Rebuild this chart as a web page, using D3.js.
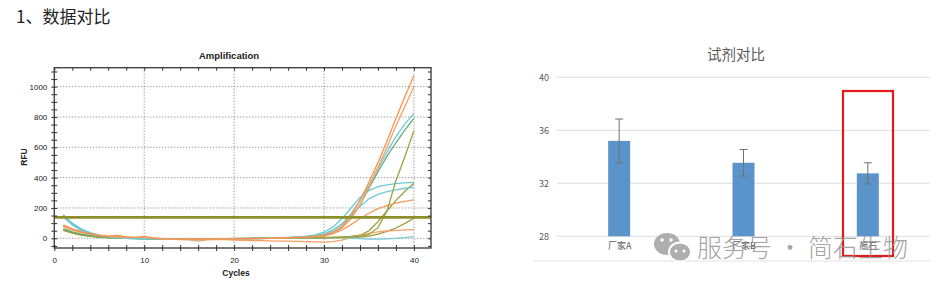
<!DOCTYPE html>
<html>
<head>
<meta charset="utf-8">
<script src="https://cdn.jsdelivr.net/npm/d3@7"></script>
<style>
  body { margin: 0; background: #fff; }
</style>
</head>
<body>
<div id="chart"></div>
<script>
// ---- amplification data (RFU per cycle, cycles 1..40) ----
const cycles = [1,2,3,4,5,6,7,8,9,10,11,12,13,14,15,16,17,18,19,20,21,22,23,24,25,26,27,28,29,30,31,32,33,34,35,36,37,38,39,40];

const orange1 = [88,62,44,30,20,14,18,10,6,12,2,-2,-4,-6,-5,-4,-6,-5,-3,-4,-2,-3,-1,0,2,4,6,9,14,20,40,80,150,250,370,500,640,790,935,1073];
const orange2 = [80,58,40,27,18,12,9,6,4,8,0,-3,-5,-6,-4,-7,-5,-4,-6,-3,-4,-2,-2,1,2,3,5,8,11,15,35,70,130,220,340,470,600,740,870,1000];
const orange3 = [84,60,42,28,18,12,20,8,5,6,1,-2,-3,-5,-6,-5,-4,-6,-5,-4,-3,-2,-2,0,1,3,5,7,10,15,30,55,90,130,165,195,215,232,244,253];
const orange4 = [76,54,38,26,17,10,8,5,3,4,-2,-5,-6,-8,-10,-18,-10,-8,-9,-12,-14,-15,-16,-17,-18,-19,-20,-22,-24,-25,-22,-12,5,20,32,42,48,52,55,57];
const cyan1 = [150,95,58,34,19,9,3,0,-2,-3,-4,-5,-6,-5,-7,-8,-6,-5,-4,-4,-3,-2,-1,0,2,4,7,11,17,25,50,95,160,250,350,460,570,670,755,824];
const cyan2 = [155,100,62,37,21,11,5,1,-1,-3,-4,-5,-5,-6,-6,-7,-6,-5,-5,-3,-2,-1,0,2,4,6,9,14,22,40,75,130,200,270,315,340,352,360,365,369];
const cyan3 = [145,92,56,33,18,9,3,0,-2,-3,-5,-6,-6,-7,-6,-8,-7,-6,-5,-4,-3,-2,-1,1,3,5,7,10,15,30,55,95,150,210,260,290,308,320,330,336];
const cyan4 = [140,88,52,30,16,8,2,-1,-3,-4,-5,-6,-7,-6,-5,-6,-5,-4,-4,-3,-3,-2,-2,-1,0,0,1,2,3,4,5,4,2,-2,-5,-6,-4,-1,4,11];
const green1 = [62,42,28,18,11,6,3,1,0,-1,-2,-3,-3,-4,-4,-5,-4,-3,-3,-2,-2,-1,0,1,2,3,5,7,10,15,35,70,130,220,330,440,540,630,715,791];
const olive1 = [58,38,24,15,9,5,2,0,-1,-2,-3,-3,-4,-4,-5,-4,-4,-3,-3,-2,-2,-1,-1,0,0,1,2,2,3,4,5,7,10,15,25,70,180,380,540,710];
const olive2 = [55,36,23,14,8,4,2,0,-1,-2,-2,-3,-3,-4,-4,-3,-3,-3,-2,-2,-1,-1,0,0,1,1,2,3,4,5,7,9,13,20,50,110,180,250,310,363];
const olive3 = [52,34,21,13,7,4,1,0,-1,-1,-2,-2,-3,-3,-3,-2,-2,-2,-2,-1,-1,0,0,0,1,1,1,2,2,3,3,4,5,8,15,28,45,68,98,132];
const threshold = 138;

const rfuTicks = [0, 200, 400, 600, 800, 1000];
const cycleTicks = [0, 10, 20, 30, 40];

// ---- reagent comparison data ----
const reagents = ["厂家A", "厂家B", "简石"];
const ctMeans = [35.2, 33.55, 32.75];
const ctErrors = [1.65, 1.0, 0.8];
const ctTicks = [28, 32, 36, 40];

const curves = [
  {v: olive3, c: "#9c9e3e"},
  {v: olive2, c: "#9a9c3a"},
  {v: orange4, c: "#f7a066"},
  {v: cyan4, c: "#72ccd8"},
  {v: orange3, c: "#f59a5c"},
  {v: cyan3, c: "#72ccd8"},
  {v: cyan2, c: "#6ecad6"},
  {v: olive1, c: "#9aa23c"},
  {v: green1, c: "#62ac7a"},
  {v: cyan1, c: "#6ecad6"},
  {v: orange2, c: "#f8a26a"},
  {v: orange1, c: "#f59452"}
];

const svg = d3.select("#chart").append("svg")
    .attr("width", 940)
    .attr("height", 288);

svg.append("text")
    .attr("x", 16)
    .attr("y", 23)
    .style("font-family", "'Noto Sans CJK SC'")
    .style("font-size", "17px")
    .style("fill", "#222")
    .text("1、数据对比");

// ================= left: amplification plot =================
const narrow = "'Liberation Sans Narrow', 'Arial Narrow', 'Liberation Sans', sans-serif";
const ampX = d3.scaleLinear().domain([0, 41.9]).range([54.3, 431]);
const ampY = d3.scaleLinear().domain([-64, 1125]).range([248, 67.7]);

const amp = svg.append("g");

amp.append("defs").append("clipPath").attr("id", "ampclip")
    .append("rect")
    .attr("x", ampX(0)).attr("y", ampY(1125))
    .attr("width", ampX(41.9) - ampX(0))
    .attr("height", ampY(-64) - ampY(1125));

// dotted grid
amp.selectAll(".hgrid").data(rfuTicks).enter().append("line")
    .attr("x1", ampX(0)).attr("x2", ampX(41.9))
    .attr("y1", d => ampY(d)).attr("y2", d => ampY(d))
    .style("stroke", "#7a7a7a")
    .style("stroke-width", 1)
    .style("stroke-dasharray", "1,2");
amp.selectAll(".vgrid").data(cycleTicks.slice(1)).enter().append("line")
    .attr("x1", d => ampX(d)).attr("x2", d => ampX(d))
    .attr("y1", ampY(1125)).attr("y2", ampY(-64))
    .style("stroke", "#7a7a7a")
    .style("stroke-width", 1)
    .style("stroke-dasharray", "1,2");

const line = d3.line()
    .x((d, i) => ampX(cycles[i]))
    .y(d => ampY(d));

amp.append("g").attr("clip-path", "url(#ampclip)")
    .selectAll("path").data(curves).enter().append("path")
    .attr("d", d => line(d.v))
    .style("fill", "none")
    .style("stroke", d => d.c)
    .style("stroke-width", 1.3);

// threshold
amp.append("line")
    .attr("x1", ampX(0)).attr("x2", ampX(41.9))
    .attr("y1", ampY(threshold)).attr("y2", ampY(threshold))
    .style("stroke", "#8e8f2a")
    .style("stroke-width", 2.6);

// frame
amp.append("rect")
    .attr("x", ampX(0)).attr("y", ampY(1125))
    .attr("width", ampX(41.9) - ampX(0))
    .attr("height", ampY(-64) - ampY(1125))
    .style("fill", "none")
    .style("stroke", "#444")
    .style("stroke-width", 1.4);

// ticks (major + minor)
function tickAxis(axis, tx, ty) {
  const g = amp.append("g")
      .attr("transform", "translate(" + tx + "," + ty + ")")
      .call(axis);
  g.select(".domain").remove();
  g.selectAll("line").style("stroke", "#333");
  g.selectAll("text")
      .style("font-family", narrow)
      .style("font-size", "8px")
      .style("fill", "#222");
  return g;
}
const yMinor = d3.range(-50, 1101, 50);
const xMinor = d3.range(0, 42, 2);
tickAxis(d3.axisLeft(ampY).tickValues(yMinor).tickSize(3).tickFormat(""), ampX(0), 0);
tickAxis(d3.axisRight(ampY).tickValues(yMinor).tickSize(3).tickFormat(""), ampX(0), 0);
tickAxis(d3.axisLeft(ampY).tickValues(yMinor).tickSize(3).tickFormat(""), ampX(41.9), 0);
tickAxis(d3.axisLeft(ampY).tickValues(rfuTicks).tickSize(0).tickPadding(7).tickFormat(d3.format("d")), ampX(0), 0);
tickAxis(d3.axisBottom(ampX).tickValues(xMinor).tickSize(3).tickFormat(""), 0, ampY(-64));
tickAxis(d3.axisTop(ampX).tickValues(xMinor).tickSize(3).tickFormat(""), 0, ampY(-64));
tickAxis(d3.axisBottom(ampX).tickValues(xMinor).tickSize(3).tickFormat(""), 0, ampY(1125));
tickAxis(d3.axisBottom(ampX).tickValues(cycleTicks).tickSize(0).tickPadding(9), 0, ampY(-64));

amp.append("text")
    .attr("x", 229).attr("y", 59)
    .attr("text-anchor", "middle")
    .style("font-family", narrow)
    .style("font-weight", "bold")
    .style("font-size", "9.5px")
    .style("fill", "#222")
    .text("Amplification");
amp.append("text")
    .attr("x", 236).attr("y", 276)
    .attr("text-anchor", "middle")
    .style("font-family", narrow)
    .style("font-weight", "bold")
    .style("font-size", "8.5px")
    .style("fill", "#222")
    .text("Cycles");
amp.append("text")
    .attr("transform", "translate(27,157) rotate(-90)")
    .attr("text-anchor", "middle")
    .style("font-family", narrow)
    .style("font-weight", "bold")
    .style("font-size", "8.5px")
    .style("fill", "#222")
    .text("RFU");

// ================= right: reagent comparison =================
const cjk = "'Noto Sans CJK SC', sans-serif";
const barX = d3.scalePoint().domain(reagents).range([557, 930]).padding(0.5);
const barY = d3.scaleLinear().domain([28, 40]).range([236.3, 77.3]);
const barW = 22;

const bar = svg.append("g");

bar.append("text")
    .attr("x", 736).attr("y", 60)
    .attr("text-anchor", "middle")
    .style("font-family", cjk)
    .style("font-size", "14.5px")
    .style("fill", "#595959")
    .text("试剂对比");

bar.selectAll(".grid").data(ctTicks).enter().append("line")
    .attr("x1", 557).attr("x2", 930)
    .attr("y1", d => barY(d)).attr("y2", d => barY(d))
    .style("stroke", "#dedede")
    .style("stroke-width", 1);

const yAx = bar.append("g")
    .attr("transform", "translate(551,0)")
    .call(d3.axisLeft(barY).tickValues(ctTicks).tickSize(0).tickPadding(0));
yAx.select(".domain").remove();
yAx.selectAll("text")
    .attr("text-anchor", "middle")
    .attr("dx", -7)
    .style("font-family", cjk)
    .style("font-size", "9px")
    .style("fill", "#595959");

bar.append("line")
    .attr("x1", 533).attr("x2", 930)
    .attr("y1", 261).attr("y2", 261)
    .style("stroke", "#e2e2e2")
    .style("stroke-width", 1);

bar.selectAll(".bar").data(ctMeans).enter().append("rect")
    .attr("x", (d, i) => barX(reagents[i]) - barW / 2)
    .attr("y", d => barY(d))
    .attr("width", barW)
    .attr("height", d => barY(28) - barY(d))
    .style("fill", "#5b93cb");

const err = bar.selectAll(".err").data(ctMeans).enter().append("g")
    .style("stroke", "#707070")
    .style("stroke-width", 1);
err.append("line")
    .attr("x1", (d, i) => barX(reagents[i])).attr("x2", (d, i) => barX(reagents[i]))
    .attr("y1", (d, i) => barY(d + ctErrors[i])).attr("y2", (d, i) => barY(d - ctErrors[i]));
err.append("line")
    .attr("x1", (d, i) => barX(reagents[i]) - 4).attr("x2", (d, i) => barX(reagents[i]) + 4)
    .attr("y1", (d, i) => barY(d + ctErrors[i])).attr("y2", (d, i) => barY(d + ctErrors[i]));
err.append("line")
    .attr("x1", (d, i) => barX(reagents[i]) - 4).attr("x2", (d, i) => barX(reagents[i]) + 4)
    .attr("y1", (d, i) => barY(d - ctErrors[i])).attr("y2", (d, i) => barY(d - ctErrors[i]));

const xAx = bar.append("g")
    .attr("transform", "translate(0," + barY(28) + ")")
    .call(d3.axisBottom(barX).tickSize(0).tickPadding(6));
xAx.select(".domain").remove();
xAx.selectAll("text")
    .style("font-family", cjk)
    .style("font-size", "9px")
    .style("fill", "#595959");

// watermark
const wm = svg.append("g").style("opacity", 0.85);
wm.append("ellipse").attr("cx", 667).attr("cy", 244).attr("rx", 13).attr("ry", 11).style("fill", "#a0a0a0");
wm.append("ellipse").attr("cx", 680).attr("cy", 252).attr("rx", 11).attr("ry", 9.5)
    .style("fill", "#a0a0a0").style("stroke", "#fff").style("stroke-width", 2);
[[662, 240, 1.8], [671, 240, 1.8], [676, 251, 1.5], [684, 251, 1.5]].forEach(p => {
  wm.append("circle").attr("cx", p[0]).attr("cy", p[1]).attr("r", p[2]).style("fill", "#fff");
});
wm.append("text")
    .attr("x", 697).attr("y", 257)
    .style("font-family", cjk)
    .style("font-size", "25px")
    .style("font-weight", 300)
    .style("fill", "#959595")
    .text("服务号 · 简石生物");

// highlight box
bar.append("rect")
    .attr("x", 843).attr("y", 91)
    .attr("width", 50).attr("height", 165)
    .style("fill", "none")
    .style("stroke", "#e3191b")
    .style("stroke-width", 2.2);
wm.raise();
</script>
</body>
</html>
